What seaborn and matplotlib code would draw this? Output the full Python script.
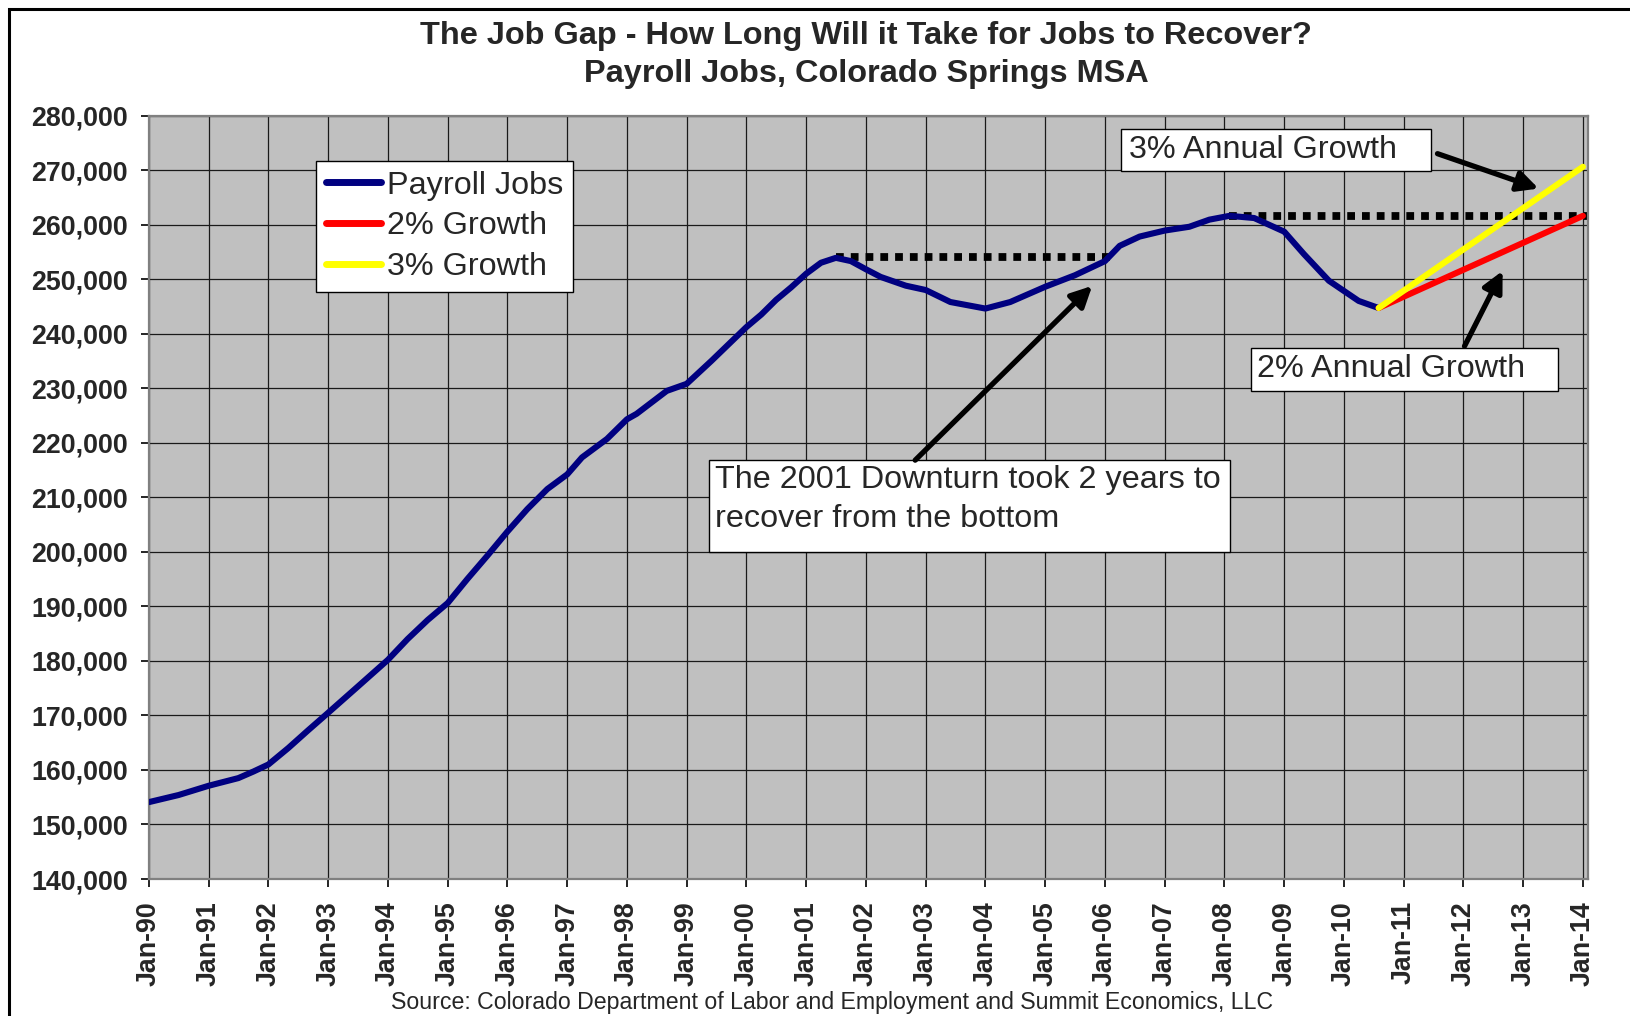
import numpy as np
import matplotlib
matplotlib.use("Agg")
import matplotlib.pyplot as plt
import matplotlib.dates as mdates
from matplotlib.patches import Rectangle
import pandas as pd
import seaborn as sns

# payroll jobs
job_dates = ["1990-01", "1990-07", "1991-01", "1991-07", "1991-10", "1992-01", "1992-05",
             "1992-09", "1993-01", "1993-07", "1994-01", "1994-05", "1994-09", "1995-01",
             "1995-05", "1995-09", "1996-01", "1996-05", "1996-09", "1997-01", "1997-04",
             "1997-09", "1998-01", "1998-03", "1998-09", "1999-01", "1999-06", "2000-01",
             "2000-04", "2000-07", "2000-10", "2001-01", "2001-04", "2001-07", "2001-10",
             "2002-01", "2002-04", "2002-09", "2003-01", "2003-06", "2004-01", "2004-06",
             "2005-01", "2005-07", "2006-01", "2006-04", "2006-08", "2007-01", "2007-06",
             "2007-10", "2008-02", "2008-07", "2009-01", "2009-05", "2009-10", "2010-04",
             "2010-08"]
jobs = [154100, 155400, 157100, 158500, 159700, 161000, 164000,
        167300, 170500, 175300, 180200, 184000, 187500, 190600,
        195000, 199300, 203700, 207800, 211500, 214200, 217300,
        220700, 224300, 225300, 229500, 230800, 235000, 241200,
        243500, 246200, 248500, 251000, 253000, 253900, 253300,
        251800, 250400, 248800, 248000, 245800, 244600, 245800,
        248600, 250700, 253300, 256100, 257800, 258900, 259600,
        260900, 261600, 261200, 258700, 254600, 249700, 246000,
        244700]

growth_dates = ["2010-08", "2014-01"]
growth_2pct = [244700, 261600]
growth_3pct = [244700, 270600]

# earlier peaks (dotted reference lines)
peak_2001 = 254100
peak_2001_span = ["2001-07", "2006-03"]
peak_2008 = 261500
peak_2008_span = ["2008-02", "2014-02"]

series_names = ["Payroll Jobs", "2% Growth", "3% Growth"]
series_colors = {"Payroll Jobs": "#000080", "2% Growth": "#FF0000", "3% Growth": "#FFFF00"}

df = pd.concat([
    pd.DataFrame({"date": job_dates, "jobs": jobs, "series": "Payroll Jobs"}),
    pd.DataFrame({"date": growth_dates, "jobs": growth_2pct, "series": "2% Growth"}),
    pd.DataFrame({"date": growth_dates, "jobs": growth_3pct, "series": "3% Growth"}),
])
df["date"] = pd.to_datetime(df["date"])

sns.set_style("ticks")
plt.rcParams["font.family"] = ["Liberation Sans", "DejaVu Sans"]

fig = plt.figure(figsize=(16.31, 10.16), dpi=100)
ax = fig.add_axes([149 / 1631, 1 - 879 / 1016, (1588 - 149) / 1631, (879 - 115.5) / 1016])
ax.set_facecolor("#C0C0C0")

sns.lineplot(data=df, x="date", y="jobs", hue="series", hue_order=series_names,
             palette=series_colors, linewidth=4.4, ax=ax, zorder=3)

for span, level in [(peak_2001_span, peak_2001), (peak_2008_span, peak_2008)]:
    ax.plot(pd.to_datetime(span), [level, level], color="black", lw=5.6,
            linestyle=(0, (1, 0.9)), dash_capstyle="butt", zorder=2.5)

ax.set_xlim(pd.Timestamp("1990-01-01"), pd.Timestamp("2014-02-01"))
ax.set_ylim(140000, 280000)
ax.yaxis.set_major_locator(matplotlib.ticker.MultipleLocator(10000))
ax.yaxis.set_major_formatter(matplotlib.ticker.FuncFormatter(lambda v, p: f"{v:,.0f}"))
ax.xaxis.set_major_locator(mdates.YearLocator(1, month=1))
ax.xaxis.set_major_formatter(mdates.DateFormatter("%b-%y"))
ax.grid(True, color="#1a1a1a", lw=0.9, zorder=0)
ax.set_axisbelow(True)
for s in ax.spines.values():
    s.set_color("#808080")
    s.set_linewidth(1.6)
ax.tick_params(axis="both", length=6, width=1.2, color="black", labelsize=19.3)
ax.tick_params(axis="y", pad=9)
ax.tick_params(axis="x", pad=10, labelrotation=90)
for lbl in ax.get_xticklabels() + ax.get_yticklabels():
    lbl.set_fontweight("bold")
ax.set_xlabel("")
ax.set_ylabel("")

old = ax.get_legend()
handles = old.legend_handles
labels = [t.get_text() for t in old.get_texts()]
leg = ax.legend(handles, labels, loc="upper left", bbox_to_anchor=(316 / 1631, 1 - 161 / 1016),
                bbox_transform=fig.transFigure, borderaxespad=0, fancybox=False,
                edgecolor="black", framealpha=1, fontsize=23.3, handlelength=1.7,
                handletextpad=0.2, labelspacing=0.33, borderpad=0.3)
leg.get_frame().set_linewidth(1.0)
for h in leg.legend_handles:
    h.set_linewidth(5)
leg.set_zorder(6)


def box(x0, x1, y0, y1):
    d0, d1 = mdates.date2num(pd.Timestamp(x0)), mdates.date2num(pd.Timestamp(x1))
    ax.add_patch(Rectangle((d0, y0), d1 - d0, y1 - y0, facecolor="white",
                           edgecolor="black", lw=1.0, zorder=5))


box("2006-04-08", "2011-06-20", 269900, 277600)
ax.text(pd.Timestamp("2006-05-29"), 273750, "3% Annual Growth", fontsize=23.3,
        va="center", ha="left", zorder=6)
box("2008-06-10", "2013-07-30", 229500, 237400)
ax.text(pd.Timestamp("2008-07-20"), 233500, "2% Annual Growth", fontsize=23.3,
        va="center", ha="left", zorder=6)
box("1999-05-18", "2008-02-03", 199900, 216800)
ax.text(pd.Timestamp("1999-06-24"), 209600,
        "The 2001 Downturn took 2 years to\nrecover from the bottom", fontsize=23.3,
        va="center", ha="left", linespacing=1.38, zorder=6)

arrows = [(("2011-07-27", 273000), ("2013-04-05", 266600)),
          (("2012-01-08", 237700), ("2012-08-28", 251500)),
          (("2002-10-29", 216800), ("2005-10-15", 248760))]
for (tx, ty), (hx, hy) in arrows:
    ax.annotate("", xy=(pd.Timestamp(hx), hy), xytext=(pd.Timestamp(tx), ty),
                arrowprops=dict(arrowstyle="-|>", lw=3.8, color="black",
                                mutation_scale=31, shrinkA=0, shrinkB=0), zorder=7)

fig.text(866 / 1631, 1 - 36 / 1016, "The Job Gap - How Long Will it Take for Jobs to Recover?",
         ha="center", va="center", fontsize=23.4, fontweight="bold")
fig.text(866 / 1631, 1 - 74 / 1016, "Payroll Jobs, Colorado Springs MSA",
         ha="center", va="center", fontsize=23.4, fontweight="bold")
fig.text(832 / 1631, 1 - 1002 / 1016,
         "Source: Colorado Department of Labor and Employment and Summit Economics, LLC",
         ha="center", va="center", fontsize=16.7)

fig.patches.append(Rectangle((9 / 1631, -0.1), 1.2, 1.1 - 9 / 1016, transform=fig.transFigure,
                             fill=False, edgecolor="black", lw=2.2))

fig.savefig("out.png", dpi=100)
